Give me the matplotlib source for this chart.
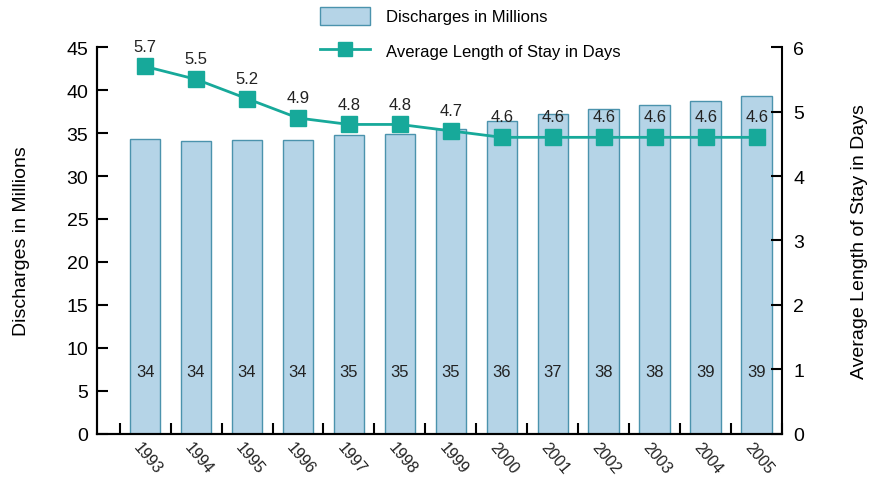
import matplotlib
matplotlib.use("Agg")
import matplotlib.pyplot as plt
from matplotlib.patches import Patch
from matplotlib.lines import Line2D
import numpy as np

plt.rcParams['font.family'] = ['Liberation Sans', 'DejaVu Sans']

years = ['1993', '1994', '1995', '1996', '1997', '1998', '1999',
         '2000', '2001', '2002', '2003', '2004', '2005']
discharges = [34.3, 34.1, 34.2, 34.2, 34.8, 34.9, 35.5, 36.4, 37.2, 37.8, 38.3, 38.7, 39.3]
discharge_labels = ['34', '34', '34', '34', '35', '35', '35', '36', '37', '38', '38', '39', '39']
alos = [5.7, 5.5, 5.2, 4.9, 4.8, 4.8, 4.7, 4.6, 4.6, 4.6, 4.6, 4.6, 4.6]

bar_face = '#b5d4e7'
bar_edge = '#4b93ad'
teal = '#17a99a'

fig = plt.figure(figsize=(8.71, 4.81), dpi=100)
ax = fig.add_axes([0.111, 0.096, 0.787, 0.804])
ax2 = ax.twinx()

x = np.arange(len(years))
ax.bar(x, discharges, width=0.6, color=bar_face, edgecolor=bar_edge, linewidth=1.0, zorder=2)
for xi, lab in zip(x, discharge_labels):
    ax.text(xi, 7.3, lab, ha='center', va='center', fontsize=12, color='#222222', zorder=3)

ax.set_ylim(0, 45)
ax.set_yticks(range(0, 46, 5))
ax.set_xlim(-0.95, 12.5)
ax.set_xticks(np.arange(-0.5, 12.6, 1))
ax.set_xticklabels([])
for xi, yr in zip(x, years):
    ax.text(xi + 0.05, -0.6, yr, rotation=-50, ha='center', va='top', fontsize=11.5,
            rotation_mode='default', color='#222222')

ax2.plot(x, alos, color=teal, linewidth=2, marker='s', markersize=11, zorder=4)
for xi, v in zip(x, alos):
    ax2.text(xi, v + 0.2, f'{v:.1f}', ha='center', va='bottom', fontsize=12, color='#222222')
ax2.set_ylim(0, 6)
ax2.set_yticks(range(0, 7))

for a in (ax, ax2):
    a.spines['top'].set_visible(False)
    for s in a.spines.values():
        s.set_linewidth(1.5)
ax.spines['right'].set_visible(False)
ax.tick_params(axis='y', direction='in', length=8, width=1.5, labelsize=14, pad=6)
ax.tick_params(axis='x', direction='in', length=8, width=1.5)
ax2.tick_params(axis='y', direction='in', length=8, width=1.5, labelsize=14, pad=8)

ax.set_ylabel('Discharges in Millions', fontsize=14, labelpad=26)
ax2.set_ylabel('Average Length of Stay in Days', fontsize=14, labelpad=34)

handles = [Patch(facecolor=bar_face, edgecolor=bar_edge, linewidth=1.0),
           Line2D([0], [0], color=teal, linewidth=2, marker='s', markersize=10)]
fig.legend(handles, ['Discharges in Millions', 'Average Length of Stay in Days'],
           loc='upper center', bbox_to_anchor=(0.54, 1.015), frameon=False, fontsize=12,
           handlelength=3.0, handleheight=1.3, labelspacing=1.0, handletextpad=1.0)

fig.savefig('out.png', dpi=100)
